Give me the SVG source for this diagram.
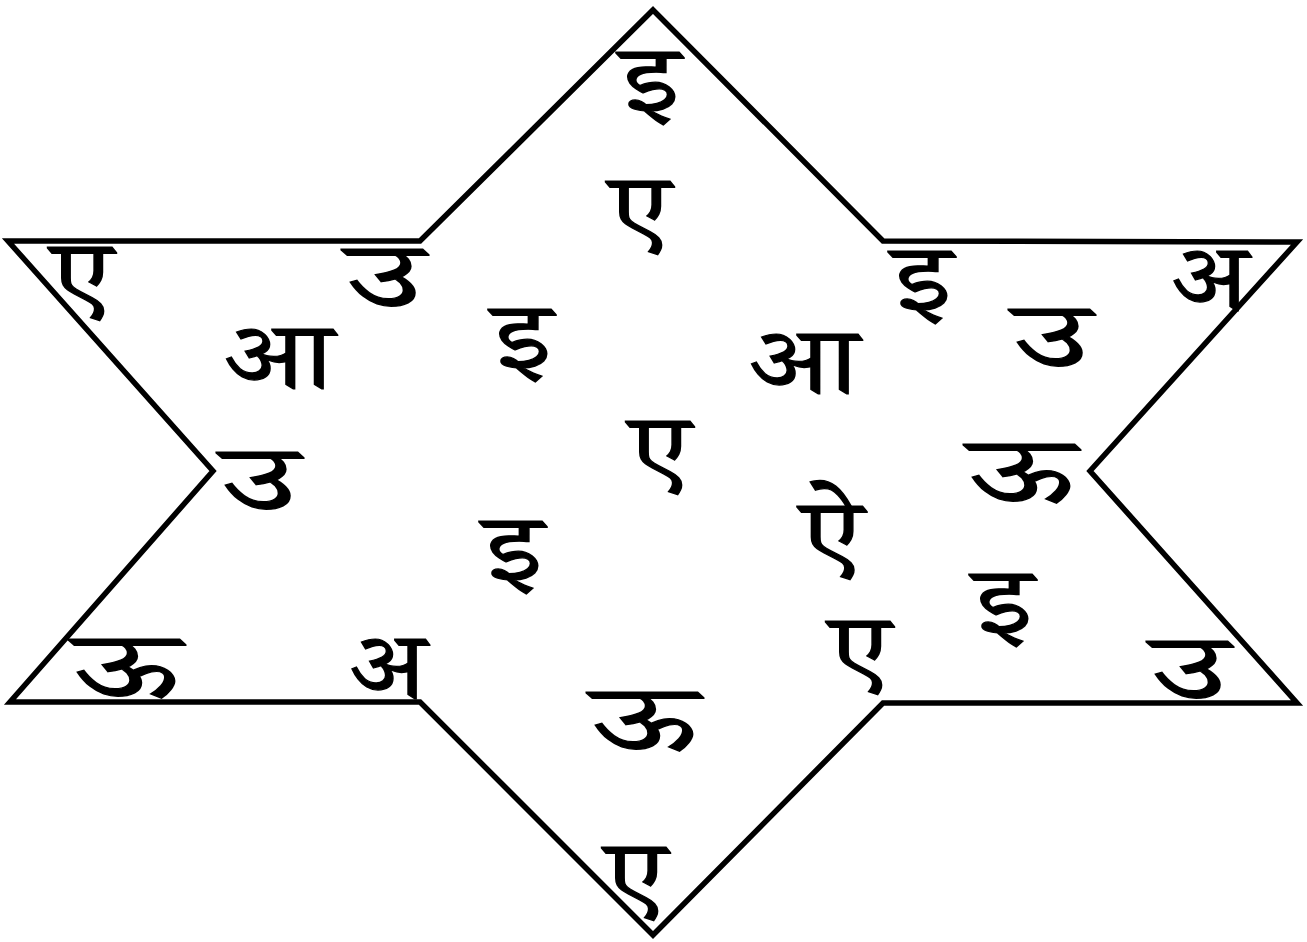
<svg xmlns="http://www.w3.org/2000/svg" width="1307" height="942" viewBox="0 0 1307 942">
<style>
.star{fill:#fff;stroke:#000;stroke-width:5.5;stroke-linejoin:miter}
text{font-family:"Noto Serif Devanagari","Noto Sans Devanagari","Lohit Devanagari","Mangal","FreeSerif",serif;font-size:95px;font-weight:normal;fill:#000;stroke:#000;stroke-width:1.2;text-anchor:middle}
</style>
<rect width="1307" height="942" fill="#fff"/>
<g id="star">
<polygon class="star" points="653,10 883,241 1297,242 1090,471 1297,703 883,703 653,935 420,702 10,702 213,471 8,241 420,241"/>
</g>
<g id="letters">
<text x="650" y="111" textLength="58" lengthAdjust="spacingAndGlyphs">इ</text>
<text x="640" y="240" textLength="60" lengthAdjust="spacingAndGlyphs">ए</text>
<text x="82" y="306" textLength="60" lengthAdjust="spacingAndGlyphs">ए</text>
<text x="385" y="308" textLength="75" lengthAdjust="spacingAndGlyphs">उ</text>
<text x="279" y="388" textLength="108" lengthAdjust="spacingAndGlyphs">आ</text>
<text x="522" y="368" textLength="58" lengthAdjust="spacingAndGlyphs">इ</text>
<text x="804" y="393" textLength="108" lengthAdjust="spacingAndGlyphs">आ</text>
<text x="660" y="480" textLength="60" lengthAdjust="spacingAndGlyphs">ए</text>
<text x="832" y="565" textLength="61" lengthAdjust="spacingAndGlyphs">ऐ</text>
<text x="513" y="580" textLength="58" lengthAdjust="spacingAndGlyphs">इ</text>
<text x="922" y="310" textLength="58" lengthAdjust="spacingAndGlyphs">इ</text>
<text x="1210" y="310" textLength="75" lengthAdjust="spacingAndGlyphs">अ</text>
<text x="1052" y="368" textLength="75" lengthAdjust="spacingAndGlyphs">उ</text>
<text x="1022" y="503" textLength="105" lengthAdjust="spacingAndGlyphs">ऊ</text>
<text x="1003" y="633" textLength="58" lengthAdjust="spacingAndGlyphs">इ</text>
<text x="1190" y="700" textLength="75" lengthAdjust="spacingAndGlyphs">उ</text>
<text x="860" y="680" textLength="60" lengthAdjust="spacingAndGlyphs">ए</text>
<text x="260" y="511" textLength="75" lengthAdjust="spacingAndGlyphs">उ</text>
<text x="127" y="698" textLength="105" lengthAdjust="spacingAndGlyphs">ऊ</text>
<text x="388" y="698" textLength="75" lengthAdjust="spacingAndGlyphs">अ</text>
<text x="645" y="751" textLength="105" lengthAdjust="spacingAndGlyphs">ऊ</text>
<text x="636" y="906" textLength="60" lengthAdjust="spacingAndGlyphs">ए</text>
</g>
</svg>
